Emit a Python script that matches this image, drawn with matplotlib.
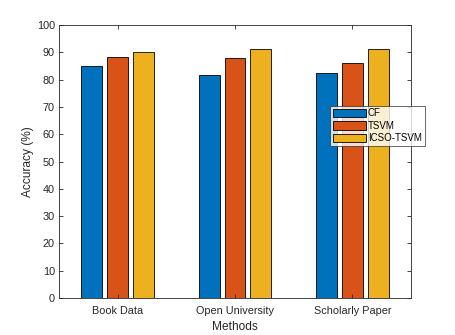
import matplotlib
matplotlib.use("Agg")
import matplotlib.pyplot as plt
import numpy as np

categories = ["Book Data", "Open University", "Scholarly Paper"]
series_names = ["CF", "TSVM", "ICSO-TSVM"]
cf = [84.9, 81.7, 82.3]
tsvm = [88.3, 87.8, 86.2]
icso = [90.2, 91.3, 91.1]
colors = ["#0072BD", "#D95319", "#EDB120"]
yticks = list(range(0, 101, 10))

plt.rcParams['font.family'] = ['Liberation Sans', 'DejaVu Sans']

fig = plt.figure(figsize=(4.55, 3.35), dpi=100)
ax = fig.add_axes([59/455, 37/335, 352/455, 273/335])

x = np.arange(1, len(categories) + 1)
width = 0.178
offsets = [-0.221, 0.0, 0.221]
for vals, off, col, name in zip([cf, tsvm, icso], offsets, colors, series_names):
    ax.bar(x + off, vals, width, color=col, edgecolor="black", linewidth=0.6, label=name)

ax.set_xlim(0.5, 3.5)
ax.set_ylim(0, 100)
ax.set_yticks(yticks)
ax.set_xticks(x)
ax.set_xticklabels(categories)
ax.tick_params(direction="in", length=3, width=0.6, colors="#262626", labelsize=7.8,
               top=True, right=True, pad=3)
ax.tick_params(axis="x", pad=6)
for s in ax.spines.values():
    s.set_color("#262626")
    s.set_linewidth(0.6)
ax.set_xlabel("Methods", fontsize=8.6, color="#262626", labelpad=3)
ax.set_ylabel("Accuracy (%)", fontsize=8.6, color="#262626", labelpad=2)

leg = ax.legend(loc="upper left", bbox_to_anchor=(330/455, (335-105.5)/335),
                bbox_transform=fig.transFigure, fontsize=7, frameon=True, fancybox=False,
                handlelength=3.4, handleheight=1.0, handletextpad=0.2, borderpad=0.3,
                labelspacing=0.25, borderaxespad=0)
leg.get_frame().set_edgecolor("#262626")
leg.get_frame().set_linewidth(0.6)

fig.savefig("out.png", dpi=100)
